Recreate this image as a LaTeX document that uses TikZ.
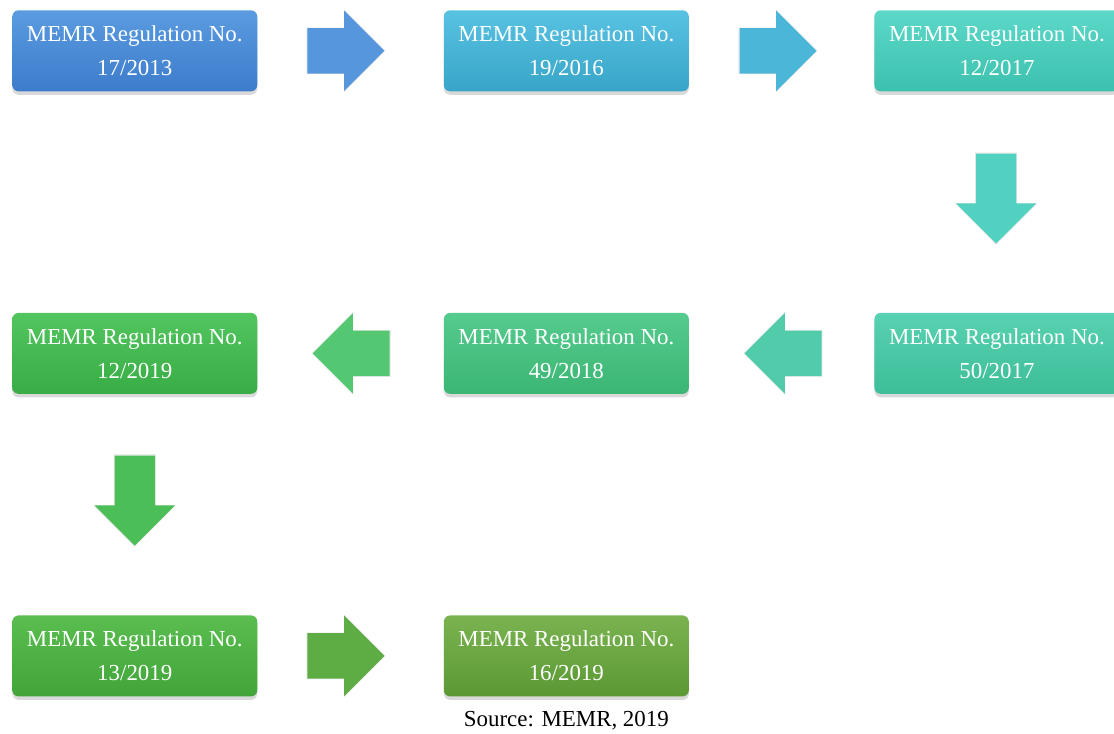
\documentclass[tikz,border=0pt]{standalone}
\usepackage{fontspec}
\setmainfont{Liberation Serif}
\usetikzlibrary{shapes.arrows, positioning, calc, shadows}
\definecolor{blueT}{HTML}{5B9BE0}
\definecolor{blueB}{HTML}{3C7CCB}
\definecolor{cyanT}{HTML}{58C2E2}
\definecolor{cyanB}{HTML}{38A5C8}
\definecolor{tealT}{HTML}{5CD8C8}
\definecolor{tealB}{HTML}{3CC1AE}
\definecolor{mintT}{HTML}{58D2B2}
\definecolor{mintB}{HTML}{3DBD98}
\definecolor{jadeT}{HTML}{55CB8E}
\definecolor{jadeB}{HTML}{3BB673}
\definecolor{leafT}{HTML}{52C55E}
\definecolor{leafB}{HTML}{39AD45}
\definecolor{grassT}{HTML}{5ABD4F}
\definecolor{grassB}{HTML}{41A53A}
\definecolor{oliveT}{HTML}{7AB34F}
\definecolor{oliveB}{HTML}{5B9935}

\begin{document}
\begin{tikzpicture}[
    node distance=4.65cm and 4.65cm,
    regbox/.style={rectangle, rounded corners=4.5pt, minimum width=6.125cm, minimum height=2.025cm, align=center, text=white, font=\fontsize{16.3}{24}\selectfont, drop shadow={opacity=0.3, shadow xshift=0pt, shadow yshift=-2.5pt}},
    harrow/.style={single arrow, draw=none, inner xsep=0pt, inner ysep=0.5625cm, minimum height=1.925cm, single arrow head extend=0.4375cm, single arrow tip angle=90, drop shadow={opacity=0.15, shadow xshift=0pt, shadow yshift=0pt, shadow scale=1.03}},
    varrow/.style={harrow, inner ysep=0.5cm, minimum height=2.25cm, single arrow head extend=0.5cm, rotate=-90},
]
\path[use as bounding box, clip] (0,0) rectangle (27.85,-18.325);

% Row 1
\node[regbox, top color=blueT, bottom color=blueB, anchor=north west] (reg1) at (0.3,-0.25) {MEMR Regulation No.\\17/2013};
\node[regbox, top color=cyanT, bottom color=cyanB, right=of reg1] (reg2) {MEMR Regulation No.\\19/2016};
\node[regbox, top color=tealT, bottom color=tealB, right=4.625cm of reg2] (reg3) {MEMR Regulation No.\\12/2017};

% Row 2 (right to left)
\node[regbox, top color=mintT, bottom color=mintB, below=5.525cm of reg3] (reg4) {MEMR Regulation No.\\50/2017};
\node[regbox, top color=jadeT, bottom color=jadeB, left=4.625cm of reg4] (reg5) {MEMR Regulation No.\\49/2018};
\node[regbox, top color=leafT, bottom color=leafB, left=of reg5] (reg6) {MEMR Regulation No.\\12/2019};

% Row 3
\node[regbox, top color=grassT, bottom color=grassB, below=5.525cm of reg6] (reg7) {MEMR Regulation No.\\13/2019};
\node[regbox, top color=oliveT, bottom color=oliveB, right=of reg7] (reg8) {MEMR Regulation No.\\16/2019};

% Block arrows
\node[harrow, fill=blueT!85!blueB] (a12) at ($(reg1)!0.5!(reg2)+(-0.4,0)$) {};
\node[harrow, fill=cyanT!60!cyanB] (a23) at ($(reg2)!0.5!(reg3)+(-0.375,0)$) {};
\node[varrow, fill=tealT!70!tealB] (a34) at ($(reg3)!0.5!(reg4)+(-0.02,0.34)$) {};
\node[harrow, fill=mintT!70!mintB, rotate=180] (a45) at ($(reg4)!0.5!(reg5)+(0.32,0)$) {};
\node[harrow, fill=jadeT!40!leafT, rotate=180] (a56) at ($(reg5)!0.5!(reg6)+(0.3,0)$) {};
\node[varrow, fill=leafT!70!leafB] (a67) at ($(reg6)!0.5!(reg7)+(0,0.355)$) {};
\node[harrow, fill=grassB!50!oliveT] (a78) at ($(reg7)!0.5!(reg8)+(-0.4,0)$) {};

% Source
\node[below=0.25cm of reg8, font=\fontsize{16.3}{20}\selectfont] (src) {Source: MEMR, 2019};

\end{tikzpicture}
\end{document}
